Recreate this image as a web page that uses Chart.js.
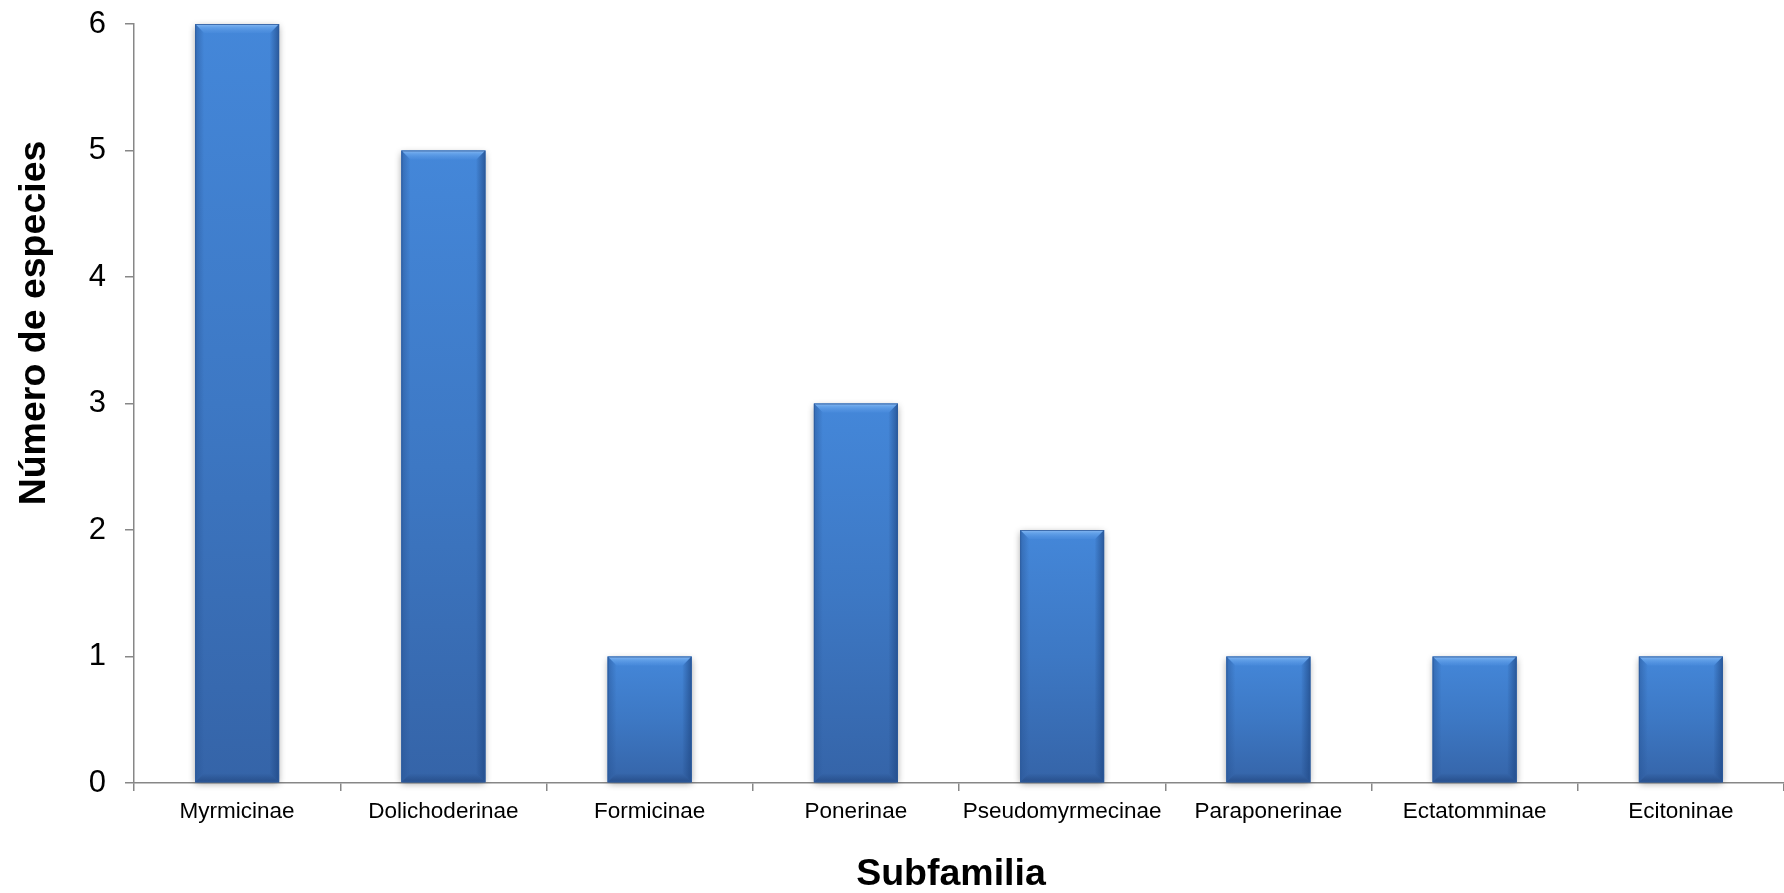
<!DOCTYPE html>
<html>
<head>
<meta charset="utf-8">
<title>Número de especies por subfamilia</title>
<script src="https://cdn.jsdelivr.net/npm/chart.js@4/dist/chart.umd.min.js"></script>
<style>
  html, body { margin: 0; padding: 0; background: #ffffff; }
  #wrap { width: 1784px; height: 893px; position: relative; }
</style>
</head>
<body>
<div id="wrap"><canvas id="chart" width="1784" height="893"></canvas></div>
<script>
// Species count per ant subfamily
const categories = ['Myrmicinae', 'Dolichoderinae', 'Formicinae', 'Ponerinae',
                    'Pseudomyrmecinae', 'Paraponerinae', 'Ectatomminae', 'Ecitoninae'];
const especies = [6, 5, 1, 3, 2, 1, 1, 1];
const yTicks = [0, 1, 2, 3, 4, 5, 6];

const yTitle = 'Número de especies';
const xTitle = 'Subfamilia';

const FONT = "'Liberation Sans', Arial, Helvetica, sans-serif";
const AXIS_GRAY = '#878787';

// Vertical gradient for each bar, from its top down to the baseline
function barFill(ctx) {
  const chart = ctx.chart;
  const yScale = chart.scales.y;
  if (!chart.chartArea || !yScale) return '#3c78c6';
  const top = yScale.getPixelForValue(ctx.raw);
  const base = yScale.getPixelForValue(0);
  const g = chart.ctx.createLinearGradient(0, top, 0, base);
  g.addColorStop(0, '#4487d9');
  g.addColorStop(0.5, '#3d78c4');
  g.addColorStop(1, '#3564a8');
  return g;
}

// Soft shadow behind the bars and bevelled edges over them
const bevelPlugin = {
  id: 'bevel',
  beforeDatasetsDraw(chart) {
    const ctx = chart.ctx;
    const meta = chart.getDatasetMeta(0);
    ctx.save();
    meta.data.forEach(bar => {
      const w = bar.width, left = bar.x - w / 2;
      ctx.shadowColor = 'rgba(0,0,0,0.38)';
      ctx.shadowBlur = 7;
      ctx.shadowOffsetX = 0;
      ctx.shadowOffsetY = 2;
      ctx.fillStyle = '#3a6fb8';
      ctx.fillRect(left, bar.y, w, bar.base - bar.y);
    });
    ctx.restore();
  },
  afterDatasetsDraw(chart) {
    const ctx = chart.ctx;
    const meta = chart.getDatasetMeta(0);
    const b = 9;
    ctx.save();
    meta.data.forEach(bar => {
      const w = bar.width, l = bar.x - w / 2, r = bar.x + w / 2;
      const t = bar.y, bt = bar.base;
      // top bevel
      let g = ctx.createLinearGradient(0, t, 0, t + b);
      g.addColorStop(0, 'rgba(150,195,245,0.85)');
      g.addColorStop(0.35, 'rgba(110,170,238,0.75)');
      g.addColorStop(1, 'rgba(80,145,225,0.35)');
      ctx.fillStyle = g;
      ctx.beginPath();
      ctx.moveTo(l, t); ctx.lineTo(r, t); ctx.lineTo(r - b, t + b); ctx.lineTo(l + b, t + b);
      ctx.closePath(); ctx.fill();
      // left bevel
      g = ctx.createLinearGradient(l, 0, l + b, 0);
      g.addColorStop(0, 'rgba(40,85,150,0.55)');
      g.addColorStop(1, 'rgba(40,85,150,0.0)');
      ctx.fillStyle = g;
      ctx.beginPath();
      ctx.moveTo(l, t); ctx.lineTo(l + b, t + b); ctx.lineTo(l + b, bt - b); ctx.lineTo(l, bt);
      ctx.closePath(); ctx.fill();
      // right bevel
      g = ctx.createLinearGradient(r, 0, r - b, 0);
      g.addColorStop(0, 'rgba(30,70,130,0.7)');
      g.addColorStop(1, 'rgba(30,70,130,0.05)');
      ctx.fillStyle = g;
      ctx.beginPath();
      ctx.moveTo(r, t); ctx.lineTo(r - b, t + b); ctx.lineTo(r - b, bt - b); ctx.lineTo(r, bt);
      ctx.closePath(); ctx.fill();
      // bottom bevel
      g = ctx.createLinearGradient(0, bt, 0, bt - b);
      g.addColorStop(0, 'rgba(30,65,120,0.6)');
      g.addColorStop(1, 'rgba(30,65,120,0.0)');
      ctx.fillStyle = g;
      ctx.beginPath();
      ctx.moveTo(l, bt); ctx.lineTo(r, bt); ctx.lineTo(r - b, bt - b); ctx.lineTo(l + b, bt - b);
      ctx.closePath(); ctx.fill();
      // thin outline
      ctx.strokeStyle = 'rgba(45,90,155,0.8)';
      ctx.lineWidth = 1;
      ctx.strokeRect(l + 0.5, t + 0.5, w - 1, bt - t - 1);
    });
    ctx.restore();
  }
};

// Axis titles
const titlesPlugin = {
  id: 'axisTitles',
  afterDraw(chart) {
    const ctx = chart.ctx;
    const area = chart.chartArea;
    ctx.save();
    ctx.fillStyle = '#000000';
    ctx.font = 'bold 37.5px ' + FONT;
    ctx.textAlign = 'center';
    ctx.textBaseline = 'alphabetic';
    ctx.fillText(xTitle, (area.left + area.right) / 2 - 8, 885);
    ctx.translate(45, 323);
    ctx.rotate(-Math.PI / 2);
    ctx.fillText(yTitle, 0, 0);
    ctx.restore();
  }
};

new Chart(document.getElementById('chart'), {
  type: 'bar',
  data: {
    labels: categories,
    datasets: [{
      data: especies,
      backgroundColor: barFill,
      borderWidth: 0,
      barPercentage: 0.407,
      categoryPercentage: 1.0
    }]
  },
  options: {
    responsive: false,
    animation: false,
    devicePixelRatio: 1,
    layout: { padding: { top: 24, right: 0, bottom: 0, left: 0 } },
    plugins: {
      legend: { display: false },
      tooltip: { enabled: false },
      title: { display: false }
    },
    scales: {
      x: {
        grid: {
          display: true, offset: true, drawOnChartArea: false, drawTicks: true,
          tickLength: 8, color: AXIS_GRAY, lineWidth: 1.5
        },
        border: { display: true, color: AXIS_GRAY, width: 1.5 },
        ticks: {
          color: '#000000', padding: 7, maxRotation: 0, autoSkip: false,
          font: { family: FONT, size: 22.5 }
        },
        afterFit(scale) {
          scale.height = 110;
          scale.paddingLeft = 0;
          scale.paddingRight = 0;
        }
      },
      y: {
        min: 0, max: 6,
        afterBuildTicks(scale) { scale.ticks = yTicks.map(v => ({ value: v })); },
        grid: {
          display: true, drawOnChartArea: false, drawTicks: true,
          tickLength: 9, color: AXIS_GRAY, lineWidth: 1.5
        },
        border: { display: true, color: AXIS_GRAY, width: 1.5 },
        ticks: {
          color: '#000000', padding: 19,
          font: { family: FONT, size: 31 }
        },
        afterFit(scale) {
          scale.width = 134;
          scale.paddingTop = 0;
          scale.paddingBottom = 0;
        }
      }
    }
  },
  plugins: [bevelPlugin, titlesPlugin]
});
</script>
</body>
</html>
